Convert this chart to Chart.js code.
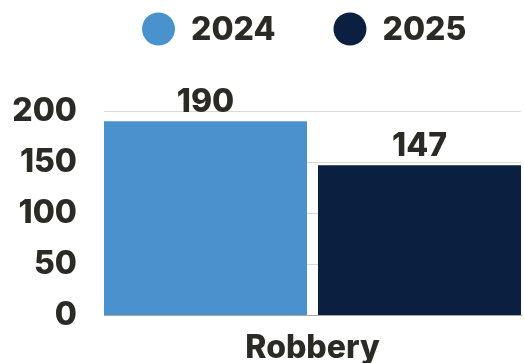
<!DOCTYPE html>
<html>
<head>
<meta charset="utf-8">
<script src="https://cdn.jsdelivr.net/npm/chart.js@4/dist/chart.umd.min.js"></script>
<style>
  html, body { margin: 0; padding: 0; background: #fff; }
  #wrap { width: 524px; height: 363px; }
</style>
</head>
<body>
<div id="wrap"><canvas id="crime-chart"></canvas></div>
<script>
const categories = ["Robbery"];
const seriesNames = ["2024", "2025"];
const values2024 = [190];
const values2025 = [147];
const yTicks = [0, 50, 100, 150, 200];

const FONT = "Inter, 'Open Sans', sans-serif";
const TEXT = "#2b2a24";
const colors = ["#4a92cd", "#0b2041"];

// row of round markers + year labels above the plot
const legendRow = {
  id: "legendRow",
  afterDraw(chart) {
    const ctx = chart.ctx;
    const r = 16.5;
    const gap = 16;
    const spacing = 58;
    ctx.save();
    ctx.font = "800 32px " + FONT;
    ctx.textBaseline = "middle";
    ctx.textAlign = "left";
    let x = chart.chartArea.left + 38;
    const y = 29;
    chart.data.datasets.forEach((ds) => {
      ctx.fillStyle = ds.backgroundColor;
      ctx.beginPath();
      ctx.arc(x + r, y, r, 0, Math.PI * 2);
      ctx.fill();
      ctx.fillStyle = TEXT;
      ctx.fillText(ds.label, x + 2 * r + gap, y + 1);
      x += 2 * r + gap + ctx.measureText(ds.label).width + spacing;
    });
    ctx.restore();
  },
};

// value printed above each bar
const barValues = {
  id: "barValues",
  afterDatasetsDraw(chart) {
    const ctx = chart.ctx;
    ctx.save();
    ctx.font = "800 32px " + FONT;
    ctx.fillStyle = TEXT;
    ctx.textAlign = "center";
    ctx.textBaseline = "alphabetic";
    chart.data.datasets.forEach((ds, i) => {
      chart.getDatasetMeta(i).data.forEach((bar, j) => {
        ctx.fillText(ds.data[j], bar.x, bar.y - 9);
      });
    });
    ctx.restore();
  },
};

new Chart(document.getElementById("crime-chart"), {
  type: "bar",
  data: {
    labels: categories,
    datasets: [
      {
        label: seriesNames[0],
        data: values2024,
        backgroundColor: colors[0],
      },
      {
        label: seriesNames[1],
        data: values2025,
        backgroundColor: colors[1],
      },
    ],
  },
  options: {
    responsive: true,
    maintainAspectRatio: false,
    animation: false,
    categoryPercentage: 1.0264,
    barPercentage: 0.9486,
    layout: {
      padding: { top: 111, right: 3, bottom: 0, left: 0 },
    },
    plugins: {
      legend: { display: false },
      tooltip: { enabled: false },
    },
    scales: {
      x: {
        afterFit(scale) {
          scale.height = 47.5;
        },
        grid: { display: false },
        border: { display: true, color: "#a8a8a8" },
        ticks: {
          color: TEXT,
          padding: 6,
          font: { family: FONT, size: 32, weight: "800" },
        },
      },
      y: {
        min: yTicks[0],
        max: yTicks[yTicks.length - 1],
        afterBuildTicks(scale) {
          scale.ticks = yTicks.map((v) => ({ value: v }));
        },
        afterFit(scale) {
          scale.width = 104;
        },
        grid: { color: "#d9d9d9", drawTicks: false },
        border: { display: false },
        ticks: {
          color: TEXT,
          padding: 27,
          font: { family: FONT, size: 32, weight: "800" },
        },
      },
    },
  },
  plugins: [legendRow, barValues],
});
</script>
</body>
</html>
